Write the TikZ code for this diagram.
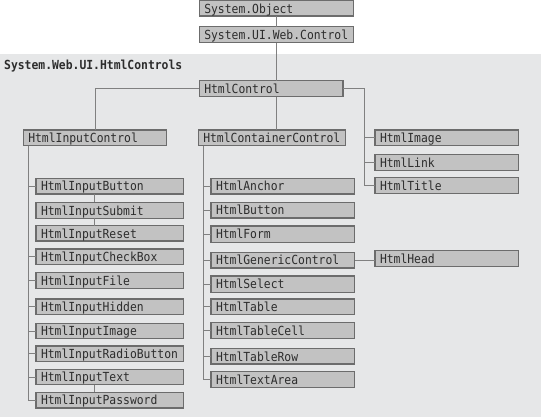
\documentclass[tikz,border=0pt]{standalone}
\usepackage{fontspec}
\newfontfamily\boxfont[FakeStretch=0.91]{DejaVu Sans Mono}
\definecolor{bgc}{RGB}{230,231,232}
\definecolor{boxfill}{RGB}{194,194,194}
\definecolor{boxline}{RGB}{108,108,108}
\definecolor{linec}{RGB}{128,128,128}
\definecolor{txt}{RGB}{45,45,45}
\tikzset{
  bx/.style={draw=boxline, fill=boxfill, line width=1.2pt, anchor=north west,
    inner xsep=5pt, inner ysep=0pt, outer sep=0pt, align=left,
    text height=10.3pt, text depth=0.7pt, text=txt,
    font=\boxfont\fontsize{12.5}{14}\selectfont},
  ln/.style={draw=linec, line width=0.9pt}
}
\newcommand\cbox[6]{%
  \pgfmathsetmacro\bw{#4-#2-10}\pgfmathsetmacro\bh{#5-#3}%
  \node[bx,text width=\bw pt,minimum height=\bh pt] (#1) at (#2,#3) {#6};}
\begin{document}
\begin{tikzpicture}[x=1pt,y=-1pt]
\useasboundingbox (0,0) rectangle (541,417);
\fill[bgc] (0,54.5) rectangle (541,417);
\node[anchor=base west, inner sep=0pt, text=txt, font=\boxfont\bfseries\fontsize{12.5}{14}\selectfont] (ns) at (4,70) {System.Web.UI.HtmlControls};

% top
\cbox{so}{199.3}{0.6}{353.3}{16}{System.Object}
\cbox{ctl}{199.3}{26.7}{353.3}{42.7}{System.UI.Web.Control}
\cbox{hc}{199.3}{80.7}{343}{96.7}{HtmlControl}
\cbox{ic}{23.3}{130}{166.7}{145.7}{HtmlInputControl}
\cbox{cc}{198.3}{130}{345.7}{145.7}{HtmlContainerControl}
% right column
\cbox{img}{375}{130}{518.3}{145.7}{HtmlImage}
\cbox{lnk}{375}{154.7}{518.3}{170.3}{HtmlLink}
\cbox{ttl}{375}{177.3}{518.3}{193.3}{HtmlTitle}
\cbox{head}{375}{250.7}{518.3}{266.3}{HtmlHead}
% left column
\cbox{ib}{36}{178.3}{183.3}{194}{HtmlInputButton}
\cbox{isub}{36}{202.3}{183.3}{218.3}{HtmlInputSubmit}
\cbox{ires}{36}{225.7}{183.3}{241}{HtmlInputReset}
\cbox{ichk}{36}{249}{183.3}{264.7}{HtmlInputCheckBox}
\cbox{ifile}{36}{272.7}{183.3}{288.7}{HtmlInputFile}
\cbox{ihid}{36}{299}{183.3}{314.3}{HtmlInputHidden}
\cbox{iimg}{36}{323.3}{183.3}{338.7}{HtmlInputImage}
\cbox{irad}{36}{346}{183.3}{361.3}{HtmlInputRadioButton}
\cbox{itxt}{36}{369.3}{183.3}{384.7}{HtmlInputText}
\cbox{ipw}{36}{392.3}{183.3}{408}{HtmlInputPassword}
% middle column
\cbox{anc}{211}{178.3}{354.7}{194}{HtmlAnchor}
\cbox{btn}{211}{202.3}{354.7}{218}{HtmlButton}
\cbox{frm}{211}{226}{354.7}{242.3}{HtmlForm}
\cbox{gen}{211}{252.3}{354.7}{268}{HtmlGenericControl}
\cbox{sel}{211}{276}{354.7}{292.3}{HtmlSelect}
\cbox{tbl}{211}{299}{354.7}{314.3}{HtmlTable}
\cbox{tcell}{211}{322.7}{354.7}{338.7}{HtmlTableCell}
\cbox{trow}{211}{348.7}{354.7}{364}{HtmlTableRow}
\cbox{tarea}{211}{371.3}{354.7}{387.3}{HtmlTextArea}

\coordinate (mx) at (276,0);
\coordinate (lt) at (28.3,0);
\coordinate (lc) at (94,0);
\coordinate (mt) at (203.3,0);
\coordinate (rt) at (364,0);

% connectors
\draw[ln] (so.south -| mx) -- (ctl.north -| mx);
\draw[ln] (ctl.south -| mx) -- (hc.north -| mx);
\draw[ln] (hc.south -| mx) -- (cc.north -| mx);
\draw[ln] (hc.west) -| (ic.north);
\draw[ln] (hc.east) -| (ttl.west -| rt) -- (ttl.west);
\draw[ln] (img.west -| rt) -- (img.west);
\draw[ln] (lnk.west -| rt) -- (lnk.west);
\draw[ln] (gen.east) -- (gen.east -| head.west);
% left trunk
\draw[ln] (ic.south -| lt) |- (ipw.west);
\foreach \n in {ib,ichk,ifile,ihid,iimg,irad,itxt}
  \draw[ln] (\n.west -| lt) -- (\n.west);
\draw[ln] (ib.south -| lc) -- (isub.north -| lc);
\draw[ln] (isub.south -| lc) -- (ires.north -| lc);
\draw[ln] (itxt.south -| lc) -- (ipw.north -| lc);
% middle trunk
\draw[ln] (cc.south -| mt) |- (tarea.west);
\foreach \n in {anc,btn,frm,gen,sel,tbl,tcell,trow}
  \draw[ln] (\n.west -| mt) -- (\n.west);
\end{tikzpicture}
\end{document}
